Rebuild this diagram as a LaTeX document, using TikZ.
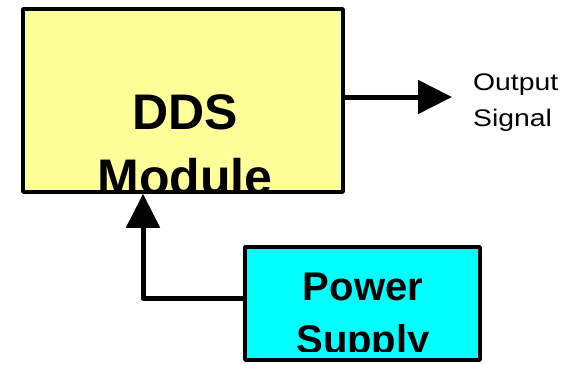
\documentclass[tikz,border=0pt]{standalone}
\usepackage{fontspec}
\setmainfont{Liberation Sans}
\newfontfamily\widefont[FakeStretch=1.18]{Liberation Sans}
\usetikzlibrary{arrows.meta}
\definecolor{ddsyellow}{RGB}{255,255,153}
\definecolor{psucyan}{RGB}{0,255,255}
\begin{document}
\begin{tikzpicture}[x=1pt,y=1pt,>={Triangle[length=34pt,width=33pt]},line join=round,line cap=round,
	box/.style={draw,line width=3.5pt,inner sep=0pt},
	conn/.style={->,line width=5pt},
	boxtext/.style={align=center,anchor=base,inner sep=0pt}]
	\useasboundingbox (0,0) rectangle (578,-364);
	% blocks
	\node[box,fill=ddsyellow,minimum width=320pt,minimum height=183pt] (dds) at (183,-100.5) {};
	\node[box,fill=psucyan,minimum width=235pt,minimum height=113pt] (psu) at (362.5,-303.5) {};
	\begin{scope}
		\clip (dds.north west) rectangle ([yshift=1.75pt]dds.south east);
		\node[boxtext,font=\fontsize{50}{65}\selectfont\bfseries] (ddstext) at (185,-194) {DDS\\Module};
	\end{scope}
	\begin{scope}
		\clip (psu.north west) rectangle ([yshift=10pt]psu.south east);
		\node[boxtext,font=\fontsize{40}{53}\selectfont\bfseries] (psutext) at (363,-353) {Power\\Supply};
	\end{scope}
	% output
	\coordinate (outtip) at (452,-97);
	\begin{scope}
		\clip (460,-60) rectangle (578,-130);
		\node[align=left,anchor=base west,inner sep=0pt,font=\widefont\fontsize{24}{36}\selectfont] (outtext) at (473,-126) {Output\\Signal};
	\end{scope}
	% connectors
	\draw[conn] ([yshift=3.5pt]dds.east) -- (outtip);
	\draw[conn] ([yshift=5.5pt]psu.west) -| ([xshift=-40pt]dds.south);
\end{tikzpicture}
\end{document}
